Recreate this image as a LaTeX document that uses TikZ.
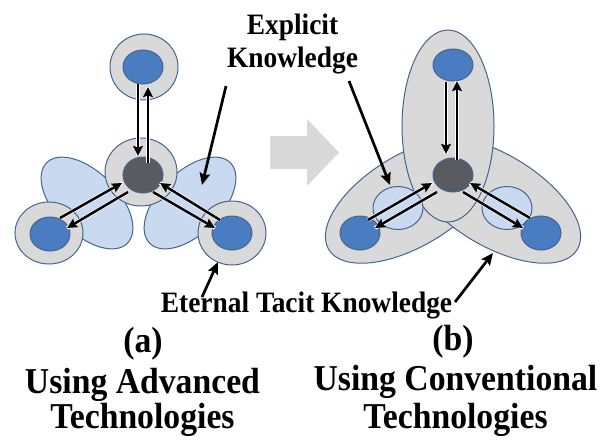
\documentclass[tikz,border=0pt]{standalone}
\usepackage{fontspec}
\setmainfont{Liberation Serif}[BoldFont={Liberation Serif Bold}]
\usetikzlibrary{shapes.geometric,arrows.meta}
\definecolor{gfill}{HTML}{D9D9D9}
\definecolor{edgec}{HTML}{46658E}
\definecolor{petalc}{HTML}{C9DAF0}
\definecolor{bluec}{HTML}{4A7CC1}
\definecolor{darkc}{HTML}{5A5B60}
\definecolor{bigarrow}{HTML}{D9D9D9}
\newcommand{\tall}[1]{\scalebox{1}[1.08]{#1}}
\begin{document}
\begin{tikzpicture}[x=1pt,y=-1pt,
  sz/.style 2 args={minimum width=#1pt, minimum height=#2pt},
  blob/.style={ellipse, draw=edgec, line width=1pt, inner sep=0pt, outer sep=0pt},
  grayb/.style={blob, fill=gfill},
  petal/.style={blob, fill=petalc},
  bluen/.style={blob, fill=bluec},
  darkn/.style={blob, fill=darkc},
  dbl/.style={line width=2.5pt, -{Stealth[length=10pt,width=9.5pt,inset=1.5pt]},
    preaction={draw=white, line width=3.8pt, arrows=-}},
  ptr/.style={line width=2.7pt, -{Stealth[length=12pt,width=10.5pt,inset=2pt]}},
  lbl/.style={font=\bfseries\fontsize{27.4}{33}\selectfont, inner sep=0pt, anchor=base},
  captxt/.style={font=\bfseries\fontsize{33.7}{38}\selectfont, inner sep=0pt, anchor=base}
]
\useasboundingbox (0,0) rectangle (610,439);

% ---------------- (a) ----------------
\node[petal, sz={114}{62}, rotate=-45] (apl) at (87,203) {};
\node[petal, sz={114}{62}, rotate=45] (apr) at (190,203) {};
\node[grayb, sz={68}{66}] (atO) at (144,67) {};
\node[grayb, sz={72}{68}] (acO) at (141,172) {};
\node[grayb, sz={68}{62}] (alO) at (49,233) {};
\node[grayb, sz={68}{64}] (arO) at (232,233) {};
\node[bluen, sz={40}{34}] (at) at (143,67) {};
\node[darkn, sz={40}{36}] (ac) at (143,175) {};
\node[bluen, sz={40}{34}] (al) at (50,234) {};
\node[bluen, sz={40}{34}] (ar) at (232,233) {};

\coordinate (a1s) at (138,84);  \coordinate (a1e) at (138,156);
\coordinate (a2s) at (148,163); \coordinate (a2e) at (148,87);
\coordinate (a3s) at (60,218);  \coordinate (a3e) at (122,183);
\coordinate (a4s) at (128,192); \coordinate (a4e) at (67,228);
\coordinate (a5s) at (220,220); \coordinate (a5e) at (160,183);
\coordinate (a6s) at (153,192); \coordinate (a6e) at (215,228);
\foreach \i in {1,...,6} \draw[dbl] (a\i s) -- (a\i e);

% ---------------- big grey arrow ----------------
\fill[bigarrow] (270,136) -- (307,136) -- (307,119) -- (339,152.5) -- (307,186) -- (307,169) -- (270,169) -- cycle;

% ---------------- (b) ----------------
\node[grayb, sz={192}{92}, rotate=31] (bll) at (411,200) {};
\node[grayb, sz={192}{92}, rotate=-31] (blr) at (495,200) {};
\node[grayb, sz={92}{192}] (bv) at (448,126) {};
\node[petal, sz={50}{43}] (bpl) at (398,208) {};
\node[petal, sz={50}{43}] (bpr) at (507,208) {};
\node[bluen, sz={40}{32}] (bt) at (453,65) {};
\node[darkn, sz={40}{34}] (bc) at (453,175) {};
\node[bluen, sz={40}{34}] (bl) at (360,233) {};
\node[bluen, sz={40}{34}] (br) at (541,233) {};

\coordinate (b1s) at (446,82);  \coordinate (b1e) at (446,154);
\coordinate (b2s) at (457,160); \coordinate (b2e) at (457,81);
\coordinate (b3s) at (368,220); \coordinate (b3e) at (432,183);
\coordinate (b4s) at (437,192); \coordinate (b4e) at (375,228);
\coordinate (b5s) at (530,218); \coordinate (b5e) at (470,183);
\coordinate (b6s) at (463,192); \coordinate (b6e) at (523,228);
\foreach \i in {1,...,6} \draw[dbl] (b\i s) -- (b\i e);

% ---------------- labels and pointers ----------------
\node[lbl] (ek1) at (292.5,34) {\tall{Explicit}};
\node[lbl] (ek2) at (292.5,67) {\tall{Knowledge}};
\coordinate (p1s) at (226,86);  \coordinate (p1e) at (202,185);
\coordinate (p2s) at (349,81);  \coordinate (p2e) at (390,185);
\draw[ptr] (p1s) -- (p1e);
\draw[ptr] (p2s) -- (p2e);

\node[lbl] (etk) at (306.5,312) {\tall{Eternal Tacit Knowledge}};
\coordinate (p3s) at (202,297); \coordinate (p3e) at (218,262);
\coordinate (p4s) at (455,302); \coordinate (p4e) at (493,253);
\draw[ptr] (p3s) -- (p3e);
\draw[ptr] (p4s) -- (p4e);

\node[captxt] (la) at (143,352) {\tall{(a)}};
\node[captxt] (lb) at (453,350) {\tall{(b)}};
\node[captxt] (ua1) at (142.5,393) {\tall{Using Advanced}};
\node[captxt] (ua2) at (142.5,428) {\tall{Technologies}};
\node[captxt] (ub1) at (455.5,390) {\tall{Using Conventional}};
\node[captxt] (ub2) at (455.5,428) {\tall{Technologies}};
\end{tikzpicture}
\end{document}
